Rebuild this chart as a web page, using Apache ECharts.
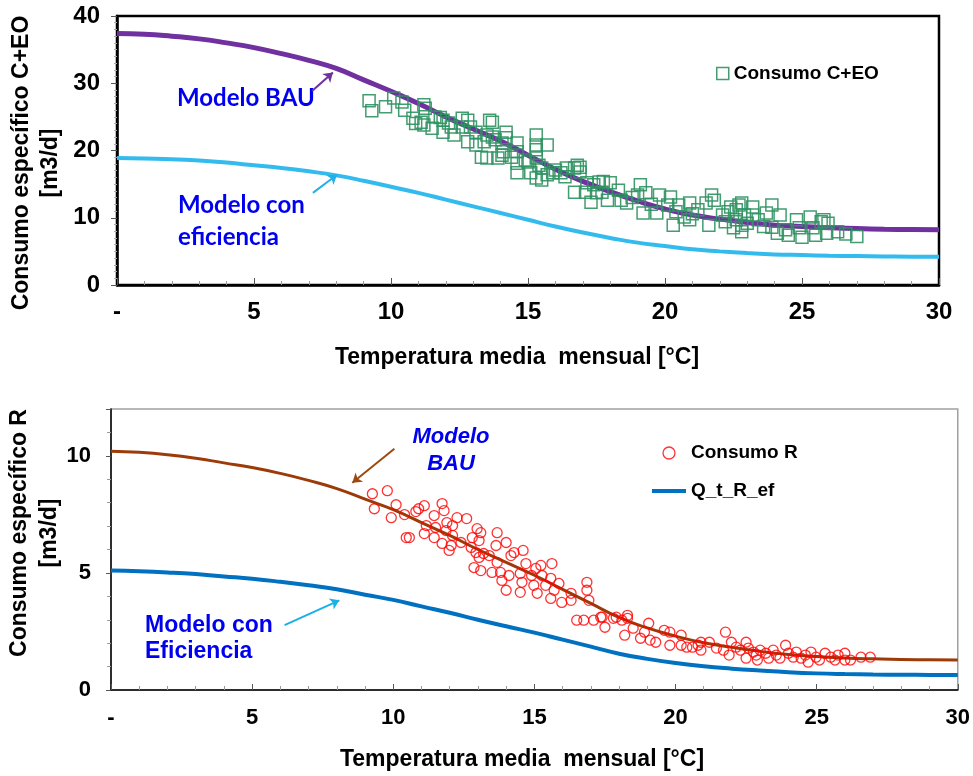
<!DOCTYPE html>
<html>
<head>
<meta charset="utf-8">
<title>Consumo específico vs temperatura</title>
<script src="https://cdn.jsdelivr.net/npm/echarts@6/dist/echarts.min.js"></script>
<style>
  html, body { margin: 0; padding: 0; background: #fff; }
  #chart { width: 973px; height: 776px; }
</style>
</head>
<body>
<div id="chart"></div>
<script>
// curvas de modelo (una por cada grado)
var tempGrid = [0, 1, 2, 3, 4, 5, 6, 7, 8, 9, 10, 11, 12, 13, 14, 15, 16, 17, 18, 19, 20, 21, 22, 23, 24, 25, 26, 27, 28, 29, 30];
var bauCEO = [37.4, 37.3, 37.0, 36.6, 36.0, 35.3, 34.4, 33.4, 32.2, 30.5, 28.8, 27.0, 25.0, 23.2, 21.4, 19.3, 17.2, 15.4, 13.9, 12.5, 11.3, 10.4, 9.8, 9.3, 8.9, 8.7, 8.5, 8.4, 8.3, 8.25, 8.2];
var efCEO = [18.9, 18.8, 18.7, 18.5, 18.2, 17.8, 17.4, 16.9, 16.3, 15.5, 14.6, 13.7, 12.7, 11.7, 10.7, 9.7, 8.7, 7.8, 7.0, 6.3, 5.8, 5.3, 5.0, 4.75, 4.55, 4.45, 4.35, 4.3, 4.25, 4.2, 4.2];
var bauR = [10.2, 10.15, 10.05, 9.9, 9.7, 9.5, 9.25, 8.95, 8.6, 8.15, 7.7, 7.15, 6.6, 6.0, 5.45, 4.9, 4.3, 3.7, 3.1, 2.65, 2.3, 2.02, 1.82, 1.65, 1.52, 1.43, 1.37, 1.33, 1.3, 1.29, 1.28];
var efR = [5.1, 5.07, 5.02, 4.95, 4.85, 4.75, 4.62, 4.47, 4.3, 4.07, 3.85, 3.57, 3.3, 3.0, 2.72, 2.45, 2.15, 1.85, 1.55, 1.33, 1.15, 1.01, 0.91, 0.83, 0.76, 0.71, 0.68, 0.66, 0.65, 0.645, 0.64];

// consumo C+EO observado
var tempCEO = [9.2, 9.3, 9.8, 10.1, 10.4, 10.5, 11.2, 11.25, 10.8, 11.1, 10.9, 11.2, 11.5, 11.6, 11.8, 11.9, 11.9, 12.1, 12.2, 12.3, 12.6, 12.6, 12.8, 12.8, 12.9, 13.1, 13.1, 13.4, 13.5, 13.6, 13.7, 13.7, 13.8, 14.05, 14.2, 14.2, 13.3, 13.5, 13.9, 14.05, 14.1, 14.4, 14.6, 14.6, 14.6, 14.9, 15.0, 14.6, 15.1, 15.3, 15.3, 15.7, 15.3, 15.3, 15.4, 15.5, 15.5, 15.3, 15.7, 15.9, 16.0, 16.2, 16.35, 16.4, 16.7, 16.8, 16.9, 16.9, 16.7, 17.1, 17.15, 17.3, 17.4, 17.5, 17.6, 17.7, 17.75, 18.0, 18.3, 17.9, 18.4, 18.6, 19.1, 19.0, 19.3, 19.2, 19.8, 19.7, 20.2, 20.1, 20.3, 20.5, 20.7, 20.9, 20.9, 21.2, 21.5, 21.7, 21.8, 21.6, 22.1, 22.3, 22.4, 22.6, 22.7, 22.8, 22.6, 22.8, 22.5, 22.8, 23.2, 23.2, 23.7, 23.9, 24.2, 23.9, 24.1, 24.4, 24.5, 24.8, 24.9, 25.0, 25.3, 25.4, 25.5, 25.7, 25.8, 25.95, 25.9, 26.3, 26.6, 27.0, 22.9, 23.0, 23.4, 22.2, 23.6, 21.0, 19.5, 18.8, 20.4];
var consCEO = [27.4, 25.9, 26.5, 27.8, 27.2, 26.0, 26.8, 26.3, 24.8, 24.2, 24.0, 23.8, 23.3, 25.0, 24.9, 24.5, 22.7, 24.1, 23.5, 22.3, 23.5, 24.8, 24.5, 21.3, 23.5, 22.7, 20.8, 21.3, 22.3, 24.5, 24.2, 22.0, 21.6, 21.1, 21.9, 22.7, 19.0, 18.9, 18.9, 19.3, 19.8, 19.0, 21.1, 19.8, 18.1, 18.6, 18.3, 16.7, 16.7, 22.3, 20.8, 20.8, 20.1, 18.9, 17.8, 17.4, 15.6, 15.9, 16.4, 16.7, 17.1, 16.7, 16.1, 17.4, 17.4, 17.8, 17.5, 16.8, 13.8, 13.8, 15.2, 12.3, 14.9, 13.7, 15.3, 13.8, 15.4, 15.2, 14.1, 12.6, 12.6, 12.2, 14.9, 13.4, 13.7, 10.7, 13.4, 10.7, 13.1, 11.9, 8.9, 11.9, 10.1, 12.2, 9.7, 11.2, 12.2, 13.4, 12.6, 8.9, 10.4, 10.9, 11.6, 11.2, 11.9, 12.2, 9.7, 8.9, 8.5, 7.9, 10.4, 11.6, 10.7, 11.9, 10.4, 8.6, 7.7, 8.2, 7.4, 9.7, 8.5, 7.1, 10.1, 8.5, 7.4, 9.4, 9.7, 9.2, 7.7, 7.9, 7.6, 7.2, 10.4, 9.2, 9.7, 9.4, 8.7, 10.6, 12.0, 13.0, 10.9];

// consumo R observado
var tempR = [9.26, 9.33, 9.79, 9.93, 10.1, 10.4, 10.46, 10.57, 10.8, 10.9, 11.1, 11.17, 11.1, 11.45, 11.5, 11.45, 11.73, 11.8, 11.9, 11.87, 11.73, 12.1, 12.1, 12.05, 11.98, 12.26, 12.4, 12.6, 12.76, 12.8, 12.93, 12.97, 13.1, 13.04, 12.86, 13.1, 13.04, 13.2, 13.4, 13.68, 13.64, 13.5, 13.68, 13.8, 14.0, 13.85, 14.17, 14.28, 14.0, 14.1, 14.5, 14.56, 14.6, 14.7, 14.5, 14.9, 15.05, 14.98, 15.23, 15.27, 15.1, 15.4, 15.58, 15.62, 15.7, 15.87, 15.58, 15.97, 16.3, 16.3, 16.86, 16.86, 16.93, 16.5, 16.75, 17.1, 17.35, 17.4, 17.5, 17.8, 17.9, 18.1, 18.3, 18.3, 18.2, 18.5, 18.76, 18.9, 19.05, 19.1, 19.3, 19.6, 19.8, 19.8, 20.2, 20.2, 20.4, 20.6, 20.8, 20.9, 21.2, 20.9, 21.45, 21.77, 21.7, 21.98, 21.9, 22.15, 22.3, 22.5, 22.58, 22.5, 22.76, 22.86, 22.9, 23.0, 23.2, 23.3, 23.46, 23.57, 23.7, 23.9, 24.0, 24.17, 24.28, 24.45, 24.6, 24.7, 24.8, 24.98, 25.1, 25.3, 25.5, 25.65, 25.76, 26.0, 26.0, 26.2, 26.57, 26.9];
var consR = [8.38, 7.74, 8.51, 7.36, 7.91, 7.49, 6.51, 6.51, 7.62, 7.74, 7.87, 7.02, 6.68, 7.45, 6.94, 6.51, 7.96, 7.66, 7.15, 6.81, 6.26, 7.02, 6.6, 6.17, 5.96, 7.36, 6.3, 7.32, 6.09, 6.51, 5.87, 6.89, 6.72, 6.38, 5.23, 5.1, 5.66, 5.83, 5.74, 6.72, 6.17, 5.02, 5.45, 5.02, 6.3, 4.68, 5.74, 5.87, 4.26, 4.89, 4.98, 4.6, 5.96, 5.4, 4.17, 4.89, 5.19, 4.47, 5.32, 4.89, 4.13, 4.47, 4.77, 5.4, 4.26, 4.55, 3.91, 3.74, 4.13, 3.83, 4.6, 4.26, 3.83, 2.98, 2.98, 2.98, 3.11, 3.11, 2.68, 3.06, 3.11, 2.98, 3.19, 3.06, 2.34, 2.64, 2.21, 2.47, 2.85, 2.13, 2.04, 2.55, 2.47, 1.91, 2.34, 1.91, 1.83, 1.83, 1.91, 2.04, 2.04, 1.7, 1.79, 2.47, 1.7, 2.04, 1.49, 1.83, 1.7, 2.04, 1.79, 1.36, 1.62, 1.49, 1.28, 1.7, 1.57, 1.36, 1.7, 1.49, 1.36, 1.91, 1.57, 1.4, 1.62, 1.36, 1.49, 1.19, 1.62, 1.4, 1.28, 1.57, 1.4, 1.28, 1.49, 1.57, 1.28, 1.28, 1.4, 1.4];

var xTicks = { min: 0, max: 30, interval: 5 };
var yTicksCEO = { min: 0, max: 40, interval: 10 };
var yTicksR = { min: 0, max: 12, interval: 5 };

function zip(xs, ys) {
  return xs.map(function (x, i) { return [x, ys[i]]; });
}

var FONT = '"Liberation Sans", Arial, sans-serif';
var chart = echarts.init(document.getElementById('chart'));

// flecha que señala cada curva de modelo
function arrow(from, to, color) {
  return {
    silent: true,
    symbol: ['none', 'arrow'],
    symbolSize: 9,
    label: { show: false },
    lineStyle: { color: color, width: 2, type: 'solid' },
    data: [[{ coord: from }, { coord: to }]]
  };
}

function title(text, x, y, rotate) {
  return {
    type: 'text', x: x, y: y, rotation: rotate ? Math.PI / 2 : 0,
    style: { text: text, font: 'bold 23px ' + FONT, fill: '#000', textAlign: 'center', textVerticalAlign: 'middle' }
  };
}

var axisLabel = { color: '#000', fontWeight: 'bold', fontFamily: FONT };
var dashZero = function (v) { return v === 0 ? '-' : v; };

var option = {
  backgroundColor: '#fff',
  animation: false,
  grid: [
    { left: 117, top: 16, width: 822, height: 269, show: true, borderColor: '#000', borderWidth: 2.5 },
    { left: 111, top: 409, width: 849, height: 281, show: true, borderColor: '#a0a0a0', borderWidth: 1.5 }
  ],
  xAxis: [
    {
      gridIndex: 0, type: 'value', min: xTicks.min, max: xTicks.max, interval: xTicks.interval,
      axisLine: { onZero: false, lineStyle: { color: '#000', width: 2.5 } },
      axisTick: { inside: true, length: 7, lineStyle: { color: '#555' } },
      minorTick: { show: true, splitNumber: 5, length: 4, lineStyle: { color: '#999' } },
      splitLine: { show: false },
      axisLabel: Object.assign({ fontSize: 24, margin: 15, formatter: dashZero }, axisLabel)
    },
    {
      gridIndex: 1, type: 'value', min: xTicks.min, max: xTicks.max, interval: xTicks.interval,
      axisLine: { onZero: false, lineStyle: { color: '#000', width: 1.5 } },
      axisTick: { inside: true, length: 6, lineStyle: { color: '#555' } },
      minorTick: { show: true, splitNumber: 5, length: 4, lineStyle: { color: '#999' } },
      splitLine: { show: false },
      axisLabel: Object.assign({ fontSize: 22, margin: 17, formatter: dashZero }, axisLabel)
    }
  ],
  yAxis: [
    {
      gridIndex: 0, type: 'value', min: yTicksCEO.min, max: yTicksCEO.max, interval: yTicksCEO.interval,
      axisLine: { onZero: false, lineStyle: { color: '#000', width: 2.5 } },
      axisTick: { length: 6, lineStyle: { color: '#555' } },
      minorTick: { show: true, splitNumber: 10, length: 3, lineStyle: { color: '#aaa' } },
      splitLine: { show: false },
      axisLabel: Object.assign({ fontSize: 24, margin: 17 }, axisLabel)
    },
    {
      gridIndex: 1, type: 'value', min: yTicksR.min, max: yTicksR.max, interval: yTicksR.interval,
      axisLine: { onZero: false, lineStyle: { color: '#000', width: 1.5 } },
      axisTick: { length: 5, lineStyle: { color: '#555' } },
      minorTick: { show: true, splitNumber: 5, length: 4, lineStyle: { color: '#999' } },
      splitLine: { show: false },
      axisLabel: Object.assign({ fontSize: 22, margin: 20, showMaxLabel: false }, axisLabel)
    }
  ],
  legend: [
    {
      left: 711, top: 59, itemWidth: 12, itemHeight: 12, itemGap: 10,
      textStyle: { fontSize: 19, fontWeight: 'bold', color: '#000', fontFamily: FONT },
      data: [{ name: 'Consumo C+EO', icon: 'rect', itemStyle: { color: 'transparent', borderColor: '#2f9262', borderWidth: 1.5 } }]
    },
    {
      left: 647, top: 438, orient: 'vertical', itemWidth: 34, itemHeight: 12, itemGap: 18,
      textStyle: { fontSize: 19, fontWeight: 'bold', color: '#000', fontFamily: FONT, lineHeight: 20 },
      data: [
        { name: 'Consumo R', icon: 'circle', itemStyle: { color: 'transparent', borderColor: '#ff0000', borderWidth: 1.3 } },
        { name: 'Q_t_R_ef', icon: 'path://M0,0 M0,4 L34,4 L34,8 L0,8 Z M34,12', itemStyle: { color: '#0070c0' } }
      ]
    }
  ],
  graphic: [
    title('Consumo específico C+EO', 22, 163, true),
    title('[m3/d]', 51, 163, true),
    title('Temperatura media  mensual [°C]', 517, 358, false),
    title('Consumo específico R', 20, 533, true),
    title('[m3/d]', 50, 533, true),
    title('Temperatura media  mensual [°C]', 522, 760, false),
    // etiquetas de los modelos
    { type: 'text', x: 177, y: 98, style: { text: 'Modelo BAU', font: 'bold 24px Lato, "Open Sans", sans-serif', fill: '#0000f0', textVerticalAlign: 'middle' } },
    { type: 'text', x: 178, y: 221, style: { text: 'Modelo con\neficiencia', font: 'bold 24px Lato, "Open Sans", sans-serif', fill: '#0000f0', textVerticalAlign: 'middle', lineHeight: 32 } },
    { type: 'text', x: 451, y: 450, style: { text: 'Modelo\nBAU', font: 'italic bold 22px ' + FONT, fill: '#0000f0', textAlign: 'center', textVerticalAlign: 'middle', lineHeight: 27 } },
    { type: 'text', x: 145, y: 639, style: { text: 'Modelo con\nEficiencia', font: 'bold 23px ' + FONT, fill: '#0000f0', textVerticalAlign: 'middle', lineHeight: 26 } }
  ],
  series: [
    {
      name: 'Modelo BAU C+EO', type: 'line', xAxisIndex: 0, yAxisIndex: 0, smooth: true, symbol: 'none', z: 3,
      lineStyle: { color: '#7030a0', width: 5 },
      data: zip(tempGrid, bauCEO),
      markLine: arrow([7.12, 28.85], [7.88, 31.6], '#7030a0')
    },
    {
      name: 'Modelo eficiencia C+EO', type: 'line', xAxisIndex: 0, yAxisIndex: 0, smooth: true, symbol: 'none',
      lineStyle: { color: '#33bbee', width: 4 },
      data: zip(tempGrid, efCEO),
      markLine: arrow([7.15, 13.7], [8.03, 16.4], '#22b0e8')
    },
    {
      name: 'Consumo C+EO', type: 'scatter', xAxisIndex: 0, yAxisIndex: 0, symbol: 'rect', symbolSize: 12, z: 4,
      itemStyle: { color: 'transparent', borderColor: '#2f9262', borderWidth: 1.5, opacity: 0.9 },
      data: zip(tempCEO, consCEO)
    },
    {
      name: 'Modelo BAU R', type: 'line', xAxisIndex: 1, yAxisIndex: 1, smooth: true, symbol: 'none', z: 3,
      lineStyle: { color: '#9c3a08', width: 3 },
      data: zip(tempGrid, bauR),
      markLine: arrow([10.04, 10.3], [8.55, 8.85], '#9c4a10')
    },
    {
      name: 'Q_t_R_ef', type: 'line', xAxisIndex: 1, yAxisIndex: 1, smooth: true, symbol: 'none',
      lineStyle: { color: '#0070c0', width: 4 },
      itemStyle: { color: '#0070c0' },
      data: zip(tempGrid, efR),
      markLine: arrow([6.15, 2.77], [8.09, 3.83], '#1ab0e8')
    },
    {
      name: 'Consumo R', type: 'scatter', xAxisIndex: 1, yAxisIndex: 1, symbol: 'circle', symbolSize: 10, z: 4,
      itemStyle: { color: 'transparent', borderColor: '#ff0000', borderWidth: 1.3 },
      data: zip(tempR, consR)
    }
  ]
};

chart.setOption(option);
</script>
</body>
</html>
